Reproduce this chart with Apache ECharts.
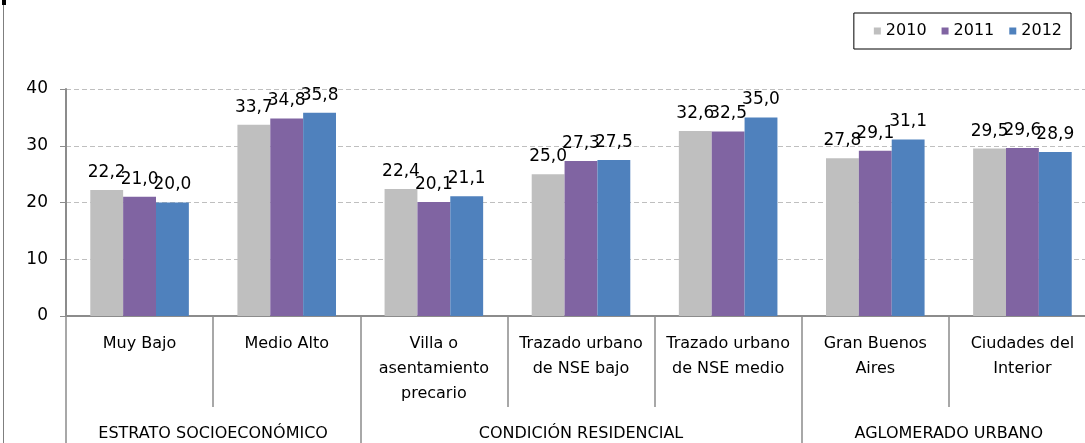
<!DOCTYPE html>
<html>
<head>
<meta charset="utf-8">
<script src="https://cdn.jsdelivr.net/npm/echarts@6/dist/echarts.min.js"></script>
<style>
    html, body { margin: 0; padding: 0; background: #fff; }
    #chart { width: 1085px; height: 443px; }
</style>
</head>
<body>
<div id="chart"></div>
<script>
// categorias (primer nivel) y grupos (segundo nivel)
const categories = [
    'Muy Bajo',
    'Medio Alto',
    'Villa o\nasentamiento\nprecario',
    'Trazado urbano\nde NSE bajo',
    'Trazado urbano\nde NSE medio',
    'Gran Buenos\nAires',
    'Ciudades del\nInterior'
]
const groups = ['ESTRATO SOCIOECONÓMICO', 'CONDICIÓN RESIDENCIAL', 'AGLOMERADO URBANO']
// limites de grupo y centro de cada grupo, en unidades de categoria
const groupBounds = [0, 2, 5, 7]
const groupCenters = [1, 3.5, 6]

const years = ['2010', '2011', '2012']
const values2010 = [22.2, 33.7, 22.4, 25.0, 32.6, 27.8, 29.5]
const values2011 = [21.0, 34.8, 20.1, 27.3, 32.5, 29.1, 29.6]
const values2012 = [20.0, 35.8, 21.1, 27.5, 35.0, 31.1, 28.9]
const colors = ['#bfbfbf', '#8064a2', '#4f81bd']

const yTicks = [0, 10, 20, 30, 40]

const font = 'DejaVu Sans'
const axisGray = '#8c8c8c'

const myChart = echarts.init(document.getElementById('chart'))

function barSeries(name, data, color) {
    return {
        name: name,
        type: 'bar',
        xAxisIndex: 0,
        data: data,
        barGap: 0,
        barCategoryGap: '33%',
        itemStyle: { color: color },
        label: {
            show: true,
            position: 'top',
            distance: 9,
            color: '#000',
            fontFamily: font,
            fontSize: 17,
            formatter: (p) => p.value.toFixed(1).replace('.', ',')
        }
    }
}

const option = {
    animation: false,
    textStyle: { fontFamily: font },
    legend: {
        data: years,
        right: 14,
        top: 13,
        itemWidth: 7,
        itemHeight: 7,
        itemGap: 15,
        padding: [10, 9, 10, 20],
        borderColor: '#000',
        borderWidth: 1,
        icon: 'rect',
        textStyle: { fontFamily: font, fontSize: 16, color: '#000' }
    },
    grid: {
        left: 66,
        top: 89,
        width: 1030,
        bottom: 127,
        outerBoundsMode: 'none',
        containLabel: false
    },
    xAxis: [
        {
            type: 'category',
            data: categories,
            axisLine: { show: true, lineStyle: { color: axisGray, width: 2 } },
            axisTick: { show: true, length: 91, lineStyle: { color: axisGray, width: 1.5 } },
            axisLabel: {
                interval: 0,
                margin: 15,
                lineHeight: 25,
                color: '#000',
                fontFamily: font,
                fontSize: 16
            }
        },
        {
            type: 'value',
            position: 'bottom',
            min: 0,
            max: 7,
            axisLine: { show: false },
            splitLine: { show: false },
            axisTick: {
                show: true,
                length: 130,
                customValues: groupBounds,
                lineStyle: { color: axisGray, width: 1.5 }
            },
            axisLabel: {
                show: true,
                margin: 110,
                customValues: groupCenters,
                color: '#000',
                fontFamily: font,
                fontSize: 16,
                formatter: (v) => groups[groupCenters.indexOf(v)] || ''
            }
        }
    ],
    yAxis: {
        type: 'value',
        min: yTicks[0],
        max: yTicks[yTicks.length - 1],
        interval: 10,
        axisLine: { show: true, lineStyle: { color: axisGray, width: 2 } },
        axisTick: { show: true, length: 6, lineStyle: { color: axisGray } },
        axisLabel: { margin: 18, color: '#000', fontFamily: font, fontSize: 17 },
        splitLine: { show: true, lineStyle: { color: '#bfbfbf', type: [5, 3] } }
    },
    series: [
        barSeries(years[0], values2010, colors[0]),
        barSeries(years[1], values2011, colors[1]),
        barSeries(years[2], values2012, colors[2])
    ],
    graphic: [
        // marco del grafico a la izquierda
        { type: 'line', shape: { x1: 3.5, y1: 0, x2: 3.5, y2: 443 }, style: { stroke: '#7f7f7f', lineWidth: 1 } },
        { type: 'rect', shape: { x: 2, y: 0, width: 4, height: 5 }, style: { fill: '#000' } }
    ]
}
myChart.setOption(option)
</script>
</body>
</html>
